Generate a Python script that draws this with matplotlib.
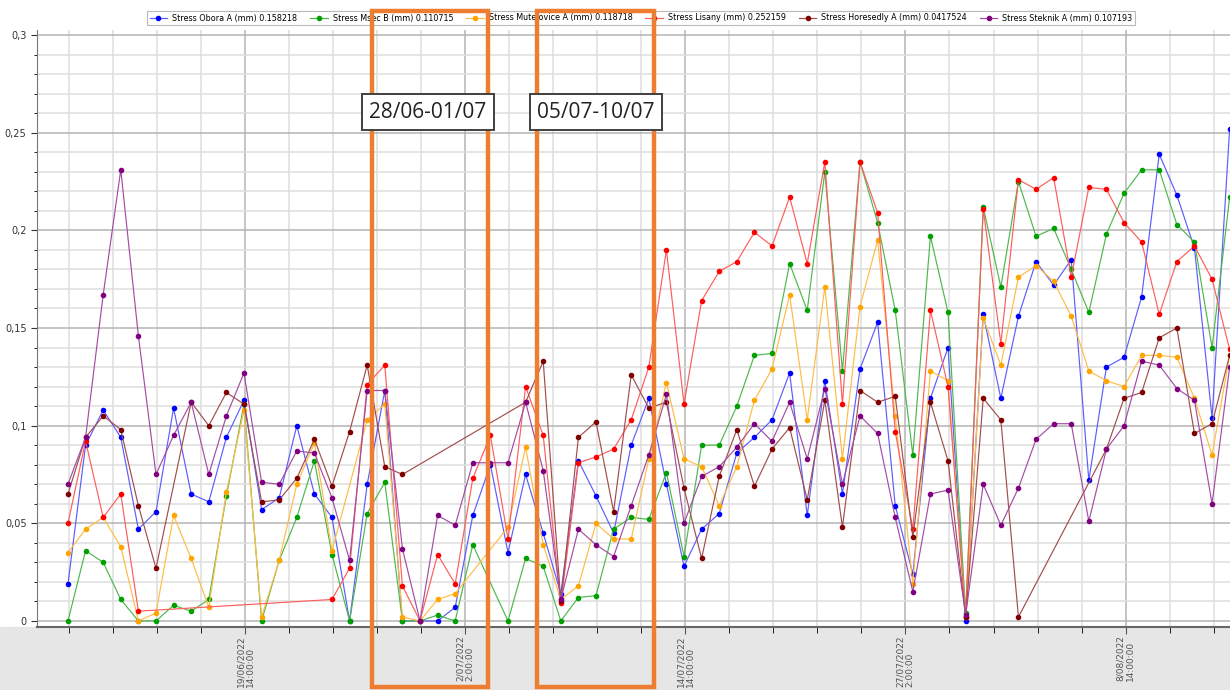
import matplotlib
matplotlib.use('Agg')
import matplotlib.pyplot as plt
import matplotlib.dates as mdates
from matplotlib.patches import Rectangle
from matplotlib.ticker import FixedLocator, MultipleLocator, FuncFormatter
import numpy as np
from datetime import datetime, timedelta

# one reading per day
start = datetime(2022, 6, 9, 12, 0)
dates = [start + timedelta(days=k) for k in range(67)]

obora = [0.019, 0.090, 0.108, 0.094, 0.047, 0.056, 0.109, 0.065, 0.061, 0.094,
         0.113, 0.057, 0.063, 0.100, 0.065, 0.053, 0.000, 0.070, 0.118, 0.000,
         0.000, 0.000, 0.007, 0.054, 0.080, 0.035, 0.075, 0.045, 0.014, 0.082,
         0.064, 0.045, 0.090, 0.114, 0.070, 0.028, 0.047, 0.055, 0.086, 0.094,
         0.103, 0.127, 0.054, 0.123, 0.065, 0.129, 0.153, 0.059, 0.024, 0.114,
         0.140, 0.000, 0.157, 0.114, 0.156, 0.184, 0.172, 0.185, 0.072, 0.130,
         0.135, 0.166, 0.239, 0.218, 0.191, 0.104, 0.252]
msec = [0.000, 0.036, 0.030, 0.011, 0.000, 0.000, 0.008, 0.005, 0.011, 0.064,
        0.111, 0.000, 0.031, 0.053, 0.082, 0.034, 0.000, 0.055, 0.071, 0.000,
        0.000, 0.003, 0.000, 0.039, None, 0.000, 0.032, 0.028, 0.000, 0.012,
        0.013, 0.047, 0.053, 0.052, 0.076, 0.033, 0.090, 0.090, 0.110, 0.136,
        0.137, 0.183, 0.159, 0.230, 0.128, 0.235, 0.204, 0.159, 0.085, 0.197,
        0.158, 0.004, 0.212, 0.171, 0.225, 0.197, 0.201, 0.180, 0.158, 0.198,
        0.219, 0.231, 0.231, 0.203, 0.194, 0.140, 0.217]
mutejovice = [0.035, 0.047, 0.053, 0.038, 0.000, 0.004, 0.054, 0.032, 0.007, 0.066,
              0.108, 0.002, 0.031, 0.070, 0.091, 0.036, None, 0.103, 0.111, 0.002,
              0.000, 0.011, 0.014, None, None, 0.048, 0.089, 0.039, 0.011, 0.018,
              0.050, 0.042, 0.042, 0.083, 0.122, 0.083, 0.079, 0.059, 0.079, 0.113,
              0.129, 0.167, 0.103, 0.171, 0.083, 0.161, 0.195, 0.105, 0.019, 0.128,
              0.123, 0.002, 0.155, 0.131, 0.176, 0.182, 0.174, 0.156, 0.128, 0.123,
              0.120, 0.136, 0.136, 0.135, 0.114, 0.085, 0.136]
lisany = [0.050, 0.092, 0.053, 0.065, 0.005, None, None, None, None, None,
          None, None, None, None, None, 0.011, 0.027, 0.121, 0.131, 0.018,
          0.000, 0.034, 0.019, 0.073, 0.095, 0.042, 0.120, 0.095, 0.009, 0.081,
          0.084, 0.088, 0.103, 0.130, 0.190, 0.111, 0.164, 0.179, 0.184, 0.199,
          0.192, 0.217, 0.183, 0.235, 0.111, 0.235, 0.209, 0.097, 0.047, 0.159,
          0.120, 0.002, 0.211, 0.142, 0.226, 0.221, 0.227, 0.176, 0.222, 0.221,
          0.204, 0.194, 0.157, 0.184, 0.192, 0.175, 0.139]
horesedly = [0.065, 0.094, 0.105, 0.098, 0.059, 0.027, None, 0.112, 0.100, 0.117,
             0.111, 0.061, 0.062, 0.073, 0.093, 0.069, 0.097, 0.131, 0.079, 0.075,
             None, None, None, None, None, None, 0.112, 0.133, 0.010, 0.094,
             0.102, 0.056, 0.126, 0.109, 0.112, 0.068, 0.032, 0.074, 0.098, 0.069,
             0.088, 0.099, 0.062, 0.113, 0.048, 0.118, 0.112, 0.115, 0.043, 0.112,
             0.082, 0.002, 0.114, 0.103, 0.002, None, None, None, None, 0.088,
             0.114, 0.117, 0.145, 0.150, 0.096, 0.101, 0.136]
steknik = [0.070, 0.094, 0.167, 0.231, 0.146, 0.075, 0.095, 0.112, 0.075, 0.105,
           0.127, 0.071, 0.070, 0.087, 0.086, 0.063, 0.031, 0.118, 0.118, 0.037,
           0.000, 0.054, 0.049, 0.081, 0.081, 0.081, 0.112, 0.077, 0.011, 0.047,
           0.039, 0.033, 0.059, 0.085, 0.116, 0.050, 0.074, 0.079, 0.089, 0.101,
           0.092, 0.112, 0.083, 0.119, 0.070, 0.105, 0.096, 0.053, 0.015, 0.065,
           0.067, 0.003, 0.070, 0.049, 0.068, 0.093, 0.101, 0.101, 0.051, 0.088,
           0.100, 0.133, 0.131, 0.119, 0.113, 0.060, 0.130]

labels = ['Stress Obora A (mm) 0.158218', 'Stress Msec B (mm) 0.110715',
          'Stress Mutejovice A (mm) 0.118718', 'Stress Lisany (mm) 0.252159',
          'Stress Horesedly A (mm) 0.0417524', 'Stress Steknik A (mm) 0.107193']
values = [obora, msec, mutejovice, lisany, horesedly, steknik]
marker_colors = ['#0000ff', '#00a000', '#ffa500', '#ff0000', '#800000', '#800080']
line_colors = ['#5c5cff', '#4cb84c', '#ffbc45', '#ff5c5c', '#a24d4d', '#a44ca4']

fig = plt.figure(figsize=(12.3, 6.9), dpi=100, facecolor='white')
# grey band under the plot, behind the tick labels
fig.patches.append(Rectangle((0, 0), 1, 63 / 690, transform=fig.transFigure,
                             color='#e6e6e6', zorder=-5))
ax = fig.add_axes([37 / 1230, 63 / 690, 1193 / 1230, 597 / 690])

x_all = mdates.date2num(dates)
handles = []
for lab, vals, mc, lc in zip(labels, values, marker_colors, line_colors):
    v = np.array([np.nan if a is None else a for a in vals], dtype=float)
    ok = ~np.isnan(v)
    h, = ax.plot(x_all[ok], v[ok], color=lc, lw=0.85, marker='o', markersize=3.0,
                 mfc=mc, mec=mc, label=lab, zorder=3)
    handles.append(h)

# axes ranges
x0 = mdates.date2num(start)
ax.set_xlim(x0 - 1.76, x0 + 66.02)
ax.set_ylim(-0.0031, 0.3026)

# ticks: major every 12.5 days, minor every 2.5 days
ref = mdates.date2num(datetime(2022, 6, 19, 14, 0))
major = [ref + 12.5 * i for i in range(5)]
minor = [ref + 2.5 * i for i in range(-5, 23)]
ax.xaxis.set_major_locator(FixedLocator(major))
ax.xaxis.set_minor_locator(FixedLocator(minor))
tick_labels = []
for m in major:
    d = mdates.num2date(m)
    tick_labels.append(f"{d.day}/{d.month:02d}/{d.year}\n{d.hour}:{d.minute:02d}:00")
ax.set_xticklabels(tick_labels, rotation=90, fontsize=6.5, color='#333333',
                   multialignment='left', linespacing=1.1)

ax.yaxis.set_major_locator(MultipleLocator(0.05))
ax.yaxis.set_minor_locator(MultipleLocator(0.01))
ax.yaxis.set_major_formatter(FuncFormatter(lambda v, p: '0' if abs(v) < 1e-9 else f'{v:.2f}'.rstrip('0').replace('.', ',')))
ax.tick_params(axis='y', labelsize=7, colors='#333333', length=4)
ax.tick_params(axis='y', which='minor', length=2)
ax.tick_params(axis='x', length=5, colors='#555555', pad=1)
ax.tick_params(axis='x', which='minor', length=4)

ax.grid(True, which='major', color='#b4b4b4', lw=1.1, zorder=0)
ax.grid(True, which='minor', color='#dedede', lw=1.1, zorder=0)
ax.set_axisbelow(True)
for s in ['top', 'right']:
    ax.spines[s].set_visible(False)
ax.spines['left'].set_color('#777777')
ax.spines['bottom'].set_color('#666666')
ax.spines['bottom'].set_linewidth(1.5)

leg = fig.legend(handles=handles, loc='center', bbox_to_anchor=(641 / 1230, 1 - 18 / 690),
                 ncol=6, fontsize=5.8, frameon=True, fancybox=False, edgecolor='#a8a8a8',
                 handlelength=2.2, columnspacing=1.6, borderpad=0.35, handletextpad=0.6)
leg.get_frame().set_linewidth(0.8)

# highlighted periods
for xa, xb in [(372, 488), (537, 654)]:
    fig.add_artist(Rectangle((xa / 1230, 3 / 690), (xb - xa) / 1230, 676 / 690,
                             transform=fig.transFigure, fill=False,
                             ec='#ed7d31', lw=3.2, zorder=10))
for xc, txt in [(428, '28/06-01/07'), (596, '05/07-10/07')]:
    fig.text(xc / 1230, 1 - 112 / 690, txt, ha='center', va='center', fontsize=15,
             family='Open Sans', color='#222222', zorder=11,
             bbox=dict(boxstyle='square,pad=0.35', fc='white', ec='#404040', lw=1.4))

fig.savefig('out.png', dpi=100, facecolor=fig.get_facecolor())
